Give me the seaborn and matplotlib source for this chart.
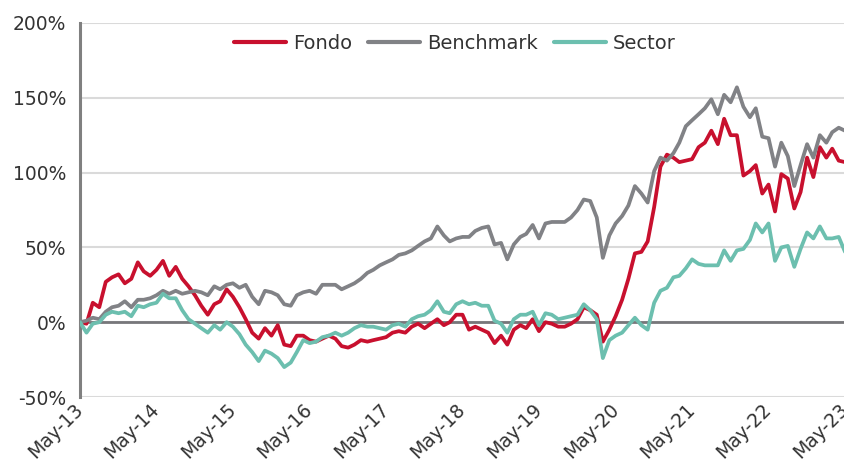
import pandas as pd
import matplotlib
matplotlib.use('Agg')
import matplotlib.pyplot as plt
from matplotlib.ticker import FuncFormatter
import seaborn as sns

# Monthly cumulative returns (%), May-13 .. May-23
start_month = '2013-05-01'
fondo = [0, -1, 13, 10, 27, 30, 32, 26, 29, 40, 34, 31, 35, 41, 31, 37, 29, 24, 18, 11,
         5, 12, 14, 22, 17, 10, 2, -7, -11, -4, -9, -2, -15, -16, -9, -9, -12, -13, -11, -9,
         -11, -16, -17, -15, -12, -13, -12, -11, -10, -7, -6, -7, -3, -1, -4, -1, 2, -2, 0, 5,
         5, -5, -3, -5, -7, -14, -9, -15, -5, -2, -4, 2, -6, 0, -1, -3, -3, -1, 2, 10,
         8, 5, -13, -5, 4, 15, 29, 46, 47, 54, 77, 104, 112, 110, 107, 108, 109, 117, 120, 128,
         119, 136, 125, 125, 98, 101, 105, 86, 92, 74, 99, 96, 76, 87, 110, 97, 117, 110, 116, 108,
         107]
benchmark = [0, 1, 3, 2, 7, 10, 11, 14, 10, 15, 15, 16, 18, 21, 19, 21, 19, 20, 21, 20,
             18, 24, 22, 25, 26, 23, 25, 17, 12, 21, 20, 18, 12, 11, 18, 20, 21, 19, 25, 25,
             25, 22, 24, 26, 29, 33, 35, 38, 40, 42, 45, 46, 48, 51, 54, 56, 64, 58, 54, 56,
             57, 57, 61, 63, 64, 52, 53, 42, 52, 57, 59, 65, 56, 66, 67, 67, 67, 70, 75, 82,
             81, 70, 43, 58, 66, 71, 78, 91, 86, 80, 101, 110, 108, 113, 120, 131, 135, 139, 143, 149,
             139, 152, 147, 157, 144, 137, 143, 124, 123, 104, 120, 111, 91, 105, 119, 110, 125, 120, 127, 130,
             128]
sector = [0, -7, -1, 0, 5, 7, 6, 7, 4, 11, 10, 12, 13, 19, 16, 16, 8, 2, -1, -4,
          -7, -2, -5, 0, -3, -8, -15, -20, -26, -19, -21, -24, -30, -27, -20, -12, -14, -13, -10, -9,
          -7, -9, -7, -4, -2, -3, -3, -4, -5, -2, -1, -3, 2, 4, 5, 8, 14, 7, 6, 12,
          14, 12, 13, 11, 11, 1, -1, -7, 2, 5, 5, 7, -2, 6, 5, 2, 3, 4, 5, 12,
          8, 2, -24, -12, -9, -7, -2, 3, -2, -5, 13, 21, 23, 30, 31, 36, 42, 39, 38, 38,
          38, 48, 41, 48, 49, 55, 66, 60, 66, 41, 50, 51, 37, 49, 60, 56, 64, 56, 56, 57,
          47]

series_names = ['Fondo', 'Benchmark', 'Sector']
series_colors = ['#C8102E', '#818286', '#6CBFAF']
y_ticks = [-50, 0, 50, 100, 150, 200]

dates = pd.date_range(start_month, periods=len(fondo), freq='MS')
df = pd.DataFrame({'Fecha': dates, 'Fondo': fondo, 'Benchmark': benchmark, 'Sector': sector})
long_df = df.melt(id_vars='Fecha', var_name='Serie', value_name='Rentabilidad')

sns.set_style('white')
plt.rcParams['font.family'] = ['DejaVu Sans']

fig = plt.figure(figsize=(8.45, 4.65), dpi=100)
ax = fig.add_axes([80 / 845, 1 - 397 / 465, 765 / 845, 374 / 465])

sns.lineplot(data=long_df, x='Fecha', y='Rentabilidad', hue='Serie',
             hue_order=series_names, palette=dict(zip(series_names, series_colors)),
             linewidth=2.7, ax=ax, zorder=3)

# grid + zero line
ax.set_ylim(-50, 200)
ax.set_yticks(y_ticks)
ax.yaxis.set_major_formatter(FuncFormatter(lambda v, p: f'{v:.0f}%'))
ax.grid(axis='y', color='#DADADA', linewidth=1.5)
ax.grid(axis='x', visible=False)
ax.set_axisbelow(True)
ax.axhline(0, color='#77777A', linewidth=2, zorder=2)

# x axis: one label per May
ax.set_xlim(dates[0], dates[-1])
year_ticks = pd.date_range(start_month, dates[-1], freq='12MS')
ax.set_xticks(year_ticks)
ax.set_xticklabels([d.strftime('%b-%y') for d in year_ticks], rotation=45,
                   ha='right', va='center', rotation_mode='anchor')
ax.tick_params(axis='x', length=0, pad=7, labelsize=13.5, labelcolor='#333333')
ax.tick_params(axis='y', length=6, width=2, color='#808080', pad=4,
               labelsize=13.5, labelcolor='#333333', direction='out')

for side in ['top', 'right', 'bottom']:
    ax.spines[side].set_visible(False)
ax.spines['left'].set_color('#808080')
ax.spines['left'].set_linewidth(2.2)

ax.set_xlabel('')
ax.set_ylabel('')

handles, labels = ax.get_legend_handles_labels()
leg = ax.legend(handles, labels, loc='upper center', bbox_to_anchor=(0.49, 1.0), ncol=3,
                frameon=False, fontsize=14, handlelength=2.7, handletextpad=0.35,
                columnspacing=0.8, borderaxespad=0.15)
for line in leg.get_lines():
    line.set_linewidth(3)
for t in leg.get_texts():
    t.set_color('#333333')

fig.savefig('out.png', dpi=100)
